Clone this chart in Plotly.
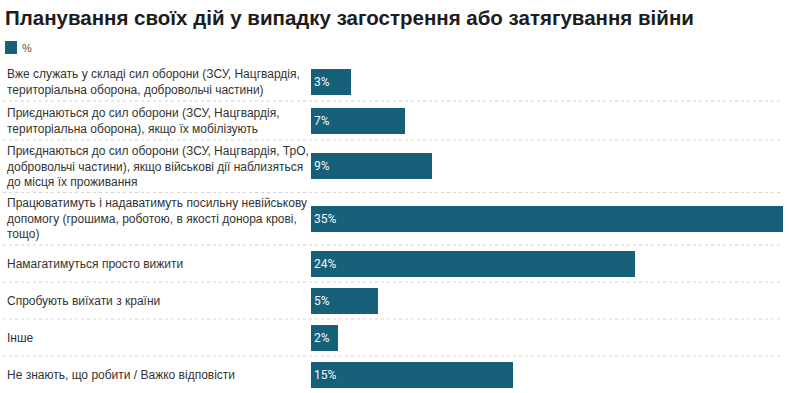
import plotly.graph_objects as go

title = "Планування своїх дій у випадку загострення або затягування війни"
series_name = "%"
categories = [
    "Вже служать у складі сил оборони (ЗСУ, Нацгвардія,<br>територіальна оборона, добровольчі частини)",
    "Приєднаються до сил оборони (ЗСУ, Нацгвардія,<br>територіальна оборона), якщо їх мобілізують",
    "Приєднаються до сил оборони (ЗСУ, Нацгвардія, ТрО,<br>добровольчі частини), якщо військові дії наблизяться<br>до місця їх проживання",
    "Працюватимуть і надаватимуть посильну невійськову<br>допомогу (грошима, роботою, в якості донора крові,<br>тощо)",
    "Намагатимуться просто вижити",
    "Спробують виїхати з країни",
    "Інше",
    "Не знають, що робити / Важко відповісти",
]
values = [3, 7, 9, 35, 24, 5, 2, 15]

BAR_COLOR = "#17607a"
W, H = 789, 393
ML, MR, MT = 311, 6, 62
PLOT_W = W - ML - MR
PLOT_H = H - MT

# row layout (pixel units on y axis): height depends on number of label lines
row_h = [max(37, 13.5 * (c.count("<br>") + 1) + 12) for c in categories]
bounds = [0]
for h in row_h:
    bounds.append(bounds[-1] + h)
centers = [(bounds[i] + bounds[i + 1]) / 2 for i in range(len(categories))]
total_h = bounds[-1]

fig = go.Figure()
fig.add_trace(go.Bar(
    y=centers, x=values, orientation="h", width=26,
    marker=dict(color=BAR_COLOR, line=dict(width=0)),
    text=[f"{v}%" for v in values], textposition="inside",
    insidetextanchor="start", constraintext="none",
    textfont=dict(family="Roboto", size=12, color="#f4f7f8"),
    name=series_name, showlegend=False, hoverinfo="skip",
))

def px_to_paper_x(px):
    return (px - ML) / PLOT_W

def px_to_paper_y(py):
    return 1 - (py - MT) / PLOT_H

for c, yc in zip(categories, centers):
    fig.add_annotation(
        x=px_to_paper_x(5), xref="paper", y=yc, yref="y",
        text=c, showarrow=False, xanchor="left", yanchor="middle", align="left",
        font=dict(family="Liberation Sans", size=12, color="#333333"),
    )

for b in bounds[1:-1]:
    fig.add_shape(
        type="line", xref="paper", yref="y",
        x0=px_to_paper_x(3), x1=1, y0=b, y1=b,
        line=dict(color="#d4d4d4", width=1, dash="dot"), layer="below",
    )

# legend (key swatch + series name)
fig.add_shape(
    type="rect", xref="paper", yref="paper",
    x0=px_to_paper_x(5), x1=px_to_paper_x(17),
    y0=px_to_paper_y(54), y1=px_to_paper_y(41),
    fillcolor=BAR_COLOR, line=dict(width=0),
)
fig.add_annotation(
    x=px_to_paper_x(20), xref="paper", y=px_to_paper_y(48), yref="paper",
    text=series_name, showarrow=False, xanchor="left", yanchor="middle",
    font=dict(family="Liberation Sans", size=11, color="#555555"),
)

fig.update_layout(
    width=W, height=H,
    margin=dict(l=ML, r=MR, t=MT, b=0, pad=0, autoexpand=False),
    paper_bgcolor="white", plot_bgcolor="white",
    title=dict(
        text=title, x=5 / W, xanchor="left", xref="container",
        y=1 - 18 / H, yanchor="middle",
        font=dict(family="Liberation Sans", size=20.5, color="#1d1d1d", weight="bold"),
    ),
    xaxis=dict(range=[0, max(values)], visible=False, fixedrange=True),
    yaxis=dict(range=[total_h, 0], visible=False, fixedrange=True),
    showlegend=False,
    bargap=0,
)

fig.write_html("out.html", config={"displayModeBar": False},
               post_script="document.body.style.margin='0';")
